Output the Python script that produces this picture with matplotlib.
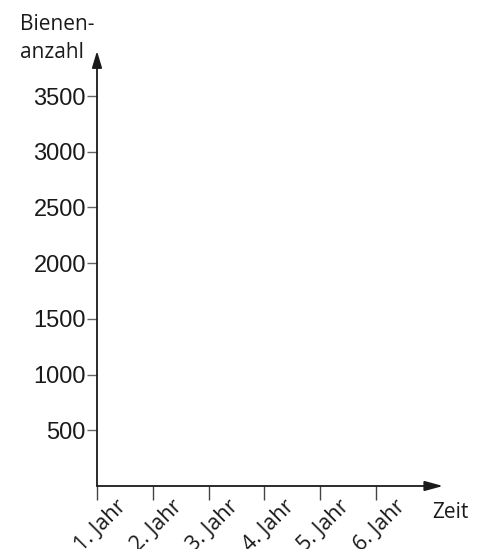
import matplotlib
matplotlib.use("Agg")
import matplotlib.pyplot as plt
import matplotlib.transforms as mtransforms

# chart content
jahre = ["1. Jahr", "2. Jahr", "3. Jahr", "4. Jahr", "5. Jahr", "6. Jahr"]
jahr_pos = [1, 2, 3, 4, 5, 6]
y_ticks = [500, 1000, 1500, 2000, 2500, 3000, 3500]
y_label = "Bienen-\nanzahl"
x_label = "Zeit"

W, H = 485, 549
fig = plt.figure(figsize=(W / 100, H / 100), dpi=100)

# axes placed in pixel units of the figure
x0, x1 = 97, 443
y0, y1 = 486, 51
ax = fig.add_axes([x0 / W, 1 - y0 / H, (x1 - x0) / W, (y0 - y1) / H])
ax.set_xlim(1, 1 + (x1 - x0) / 55.8)
ax.set_ylim(0, (y0 - y1) / 55.7 * 500)
ax.patch.set_alpha(0)
for s in ax.spines.values():
    s.set_visible(False)

axcol = "#1a1a1a"
# axis arrows
ax.annotate("", xy=(0, 1), xycoords="axes fraction", xytext=(0, 0),
            textcoords="axes fraction",
            arrowprops=dict(arrowstyle="-|>,head_length=1.0,head_width=0.3",
                            color=axcol, lw=1.3, shrinkA=0, shrinkB=0))
ax.annotate("", xy=(1, 0), xycoords="axes fraction", xytext=(0, 0),
            textcoords="axes fraction",
            arrowprops=dict(arrowstyle="-|>,head_length=1.1,head_width=0.3",
                            color=axcol, lw=1.3, shrinkA=0, shrinkB=0))

ax.set_yticks(y_ticks)
ax.set_yticklabels([str(v) for v in y_ticks], family="Liberation Sans",
                   fontsize=17, color="#1a1a1a")
ax.tick_params(axis="y", length=7, width=1.0, color="#666666", pad=1)

ax.set_xticks(jahr_pos)
ax.set_xticklabels(jahre, family="Open Sans", fontsize=15.5, color="#1a1a1a",
                   rotation=45, ha="right", va="top", rotation_mode="anchor")
ax.tick_params(axis="x", length=10, width=1.0, color="#444444", pad=2)
off = mtransforms.ScaledTranslation(19 / 100, 7 / 100, fig.dpi_scale_trans)
for lab in ax.get_xticklabels():
    lab.set_transform(lab.get_transform() + off)

fig.text(20 / W, 1 - 58 / H, y_label, family="Open Sans", fontsize=15,
         color="#1a1a1a", ha="left", va="baseline", linespacing=1.43)
fig.text(432 / W, 1 - 518 / H, x_label, family="Open Sans", fontsize=15,
         color="#1a1a1a", ha="left", va="baseline")

fig.savefig("out.png", dpi=100)
